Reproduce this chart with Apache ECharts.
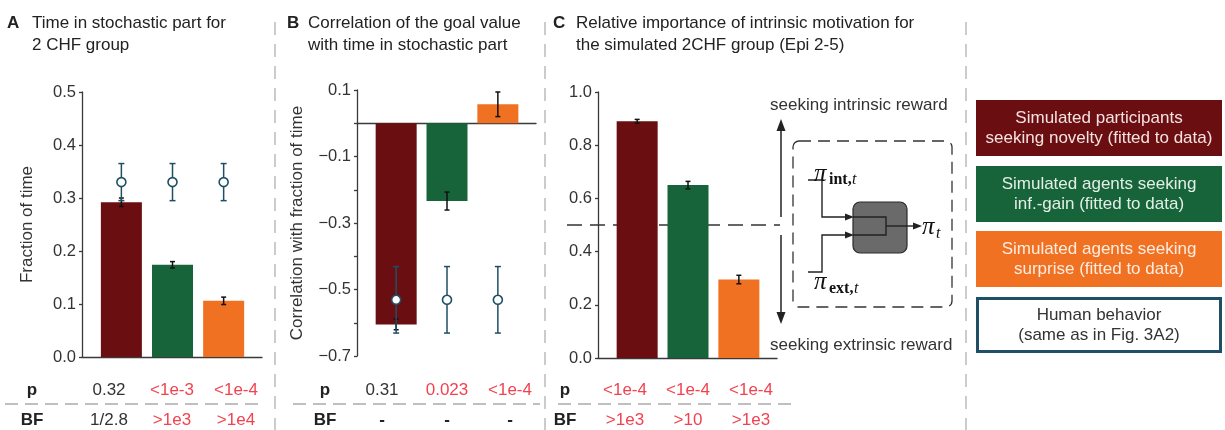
<!DOCTYPE html>
<html>
<head>
<meta charset="utf-8">
<script src="https://cdn.jsdelivr.net/npm/echarts@6/dist/echarts.min.js"></script>
<style>
  html, body { margin: 0; padding: 0; background: #fff; }
  #chart { width: 1225px; height: 430px; }
</style>
</head>
<body>
<div id="chart"></div>
<script>
// ---- data ----
const groups = ['novelty', 'inf.-gain', 'surprise'];
const groupIndex = [0, 1, 2];

// A: fraction of time spent in the stochastic part (2 CHF group)
const fracMean = [0.292, 0.174, 0.106];
const fracErr = [0.008, 0.006, 0.007];
const fracHumanMean = [0.33, 0.33, 0.33];
const fracHumanErr = [0.035, 0.035, 0.035];

// B: correlation of goal value with time in stochastic part
const corrMean = [-0.605, -0.234, 0.057];
const corrErr = [0.016, 0.027, 0.037];
const corrHumanMean = [-0.531, -0.531, -0.531];
const corrHumanErr = [0.100, 0.100, 0.100];

// C: relative importance of intrinsic motivation
const intrMean = [0.890, 0.650, 0.295];
const intrErr = [0.007, 0.014, 0.016];
const intrThreshold = 0.5;

// statistics rows
const pA = ['0.32', '<1e-3', '<1e-4'];
const pASig = [false, true, true];
const bfA = ['1/2.8', '>1e3', '>1e4'];
const bfASig = [false, true, true];
const pB = ['0.31', '0.023', '<1e-4'];
const pBSig = [false, true, true];
const bfB = ['-', '-', '-'];
const bfBSig = [false, false, false];
const pC = ['<1e-4', '<1e-4', '<1e-4'];
const pCSig = [true, true, true];
const bfC = ['>1e3', '>10', '>1e3'];
const bfCSig = [true, true, true];

const legendLabels = [
  'Simulated participants\nseeking novelty (fitted to data)',
  'Simulated agents seeking\ninf.-gain (fitted to data)',
  'Simulated agents seeking\nsurprise (fitted to data)',
  'Human behavior\n(same as in Fig. 3A2)'
];

// ---- styling ----
const FONT = 'Liberation Sans, Arial, Helvetica, sans-serif';
const SERIF = 'Liberation Serif, DejaVu Serif, serif';
const TXT = '#333333';
const RED = '#f2424f';
const barColors = ['#6b0e11', '#17633a', '#f07122'];
const humanColor = '#1f4f65';
const axisColor = '#3a3a3a';
const xMin = -0.77, xMax = 2.75;

const chart = echarts.init(document.getElementById('chart'), null, { renderer: 'canvas' });

function xAxisFor(i) {
  return {
    gridIndex: i, type: 'value', min: xMin, max: xMax,
    axisLine: { show: true, onZero: true, lineStyle: { color: axisColor, width: 1.3 } },
    axisTick: { show: false }, axisLabel: { show: false }, splitLine: { show: false }
  };
}
function yAxisFor(i, min, max, interval, formatter, name, nameGap) {
  return {
    gridIndex: i, type: 'value', min: min, max: max, interval: interval,
    axisLine: { show: true, onZero: false, lineStyle: { color: axisColor, width: 1.3 } },
    axisTick: { show: true, length: 3, lineStyle: { color: axisColor, width: 1.3 } },
    splitLine: { show: false },
    axisLabel: { formatter: formatter, fontSize: 16.5, color: TXT, fontFamily: FONT, margin: 6 },
    name: name || '', nameLocation: 'middle', nameGap: nameGap || 0,
    nameTextStyle: { fontSize: 17, color: TXT, fontFamily: FONT }
  };
}

function barSeries(i, means) {
  return {
    type: 'bar', xAxisIndex: i, yAxisIndex: i, barWidth: 41, z: 2,
    data: means.map((v, k) => ({ value: [groupIndex[k], v], itemStyle: { color: barColors[k] } }))
  };
}
function errRender(color, cap, lw) {
  return function (params, api) {
    const x = api.value(0);
    const a = api.coord([x, api.value(1)]);
    const b = api.coord([x, api.value(2)]);
    const st = { stroke: color, lineWidth: lw };
    return {
      type: 'group', children: [
        { type: 'line', shape: { x1: a[0], y1: a[1], x2: b[0], y2: b[1] }, style: st },
        { type: 'line', shape: { x1: a[0] - cap, y1: a[1], x2: a[0] + cap, y2: a[1] }, style: st },
        { type: 'line', shape: { x1: b[0] - cap, y1: b[1], x2: b[0] + cap, y2: b[1] }, style: st }
      ]
    };
  };
}
function errSeries(i, means, errs, color, cap, z) {
  return {
    type: 'custom', xAxisIndex: i, yAxisIndex: i, z: z,
    renderItem: errRender(color, cap, 1.5),
    encode: { x: 0, y: [1, 2] },
    data: means.map((v, k) => [groupIndex[k], v - errs[k], v + errs[k]])
  };
}
function humanSeries(i, means) {
  return {
    type: 'scatter', xAxisIndex: i, yAxisIndex: i, z: 6, symbol: 'circle', symbolSize: 9,
    itemStyle: { color: '#ffffff', borderColor: humanColor, borderWidth: 1.6, opacity: 1 },
    data: means.map((v, k) => [groupIndex[k], v])
  };
}

const series = [
  barSeries(0, fracMean),
  errSeries(0, fracMean, fracErr, '#111', 2.5, 3),
  errSeries(0, fracHumanMean, fracHumanErr, humanColor, 3, 4),
  humanSeries(0, fracHumanMean),

  barSeries(1, corrMean),
  errSeries(1, corrMean, corrErr, '#111', 2.5, 3),
  errSeries(1, corrHumanMean, corrHumanErr, humanColor, 3, 4),
  humanSeries(1, corrHumanMean),

  barSeries(2, intrMean),
  errSeries(2, intrMean, intrErr, '#111', 2.5, 3),
  // 0.5 reference: equal weighting of intrinsic and extrinsic reward
  {
    type: 'custom', xAxisIndex: 2, yAxisIndex: 2, z: 1,
    renderItem: function (params, api) {
      const cs = params.coordSys;
      const y = api.coord([0, api.value(1)])[1];
      return {
        type: 'line',
        shape: { x1: cs.x - 31, y1: y, x2: cs.x + cs.width + 3, y2: y },
        style: { stroke: '#333', lineWidth: 1.4, lineDash: [15, 8] }
      };
    },
    data: [[0, intrThreshold]]
  }
];

// ---- graphic elements: titles, separators, statistics table, diagram, legend ----
const G = [];
function txt(x, y, text, opt) {
  opt = opt || {};
  G.push({
    type: 'text', x: x, y: y, z: 10, silent: true,
    style: {
      text: text, fill: opt.fill || TXT,
      fontSize: opt.size || 17, fontFamily: opt.family || FONT,
      fontWeight: opt.weight || 'normal', fontStyle: opt.style || 'normal',
      align: opt.align || 'left', textAlign: opt.align || 'left',
      verticalAlign: opt.valign || 'middle', textVerticalAlign: opt.valign || 'middle',
      lineHeight: opt.lh || 22
    }
  });
}
function line(x1, y1, x2, y2, st) {
  G.push({ type: 'line', z: 9, silent: true, shape: { x1, y1, x2, y2 }, style: st });
}

// panel titles
txt(7, 23, 'A', { weight: 'bold', fill: '#222' });
txt(32, 12, 'Time in stochastic part for\n2 CHF group', { valign: 'top', fill: '#222' });
txt(287, 23, 'B', { weight: 'bold', fill: '#222' });
txt(308, 12, 'Correlation of the goal value\nwith time in stochastic part', { valign: 'top', fill: '#222' });
txt(553, 23, 'C', { weight: 'bold', fill: '#222' });
txt(576, 12, 'Relative importance of intrinsic motivation for\nthe simulated 2CHF group (Epi 2-5)', { valign: 'top', fill: '#222' });

// panel separators
[275, 545, 966].forEach(x => line(x, 22, x, 430, { stroke: '#aaaaaa', lineWidth: 1.2, lineDash: [13, 9] }));

// statistics table
const rowP = 390, rowBF = 420;
function table(labelX, cols, pv, ps, bv, bs, lineX1, lineX2) {
  txt(labelX, rowP, 'p', { weight: 'bold', align: 'center', fill: '#222' });
  txt(labelX, rowBF, 'BF', { weight: 'bold', align: 'center', fill: '#222' });
  cols.forEach((x, k) => {
    txt(x, rowP, pv[k], { align: 'center', fill: ps[k] ? RED : TXT });
    const dash = bv[k] === '-';
    txt(x, rowBF, bv[k], { align: 'center', fill: bs[k] ? RED : (dash ? '#222' : TXT), weight: dash ? 'bold' : 'normal' });
  });
  line(lineX1, 404, lineX2, 404, { stroke: '#aaaaaa', lineWidth: 1.5, lineDash: [13, 7] });
}
table(32, [109, 172, 236], pA, pASig, bfA, bfASig, 5, 261);
table(325, [382, 447, 510], pB, pBSig, bfB, bfBSig, 293, 540);
table(565, [625, 688, 751], pC, pCSig, bfC, bfCSig, 558, 793);

// arbitration diagram
const ink = '#222';
txt(770, 105, 'seeking intrinsic reward', { fill: '#333' });
txt(770, 345, 'seeking extrinsic reward', { fill: '#333' });
line(781, 129, 781, 217, { stroke: ink, lineWidth: 1.5 });
line(781, 235, 781, 314, { stroke: ink, lineWidth: 1.5 });
G.push({ type: 'polygon', z: 9, silent: true, shape: { points: [[781, 119], [776.5, 131], [785.5, 131]] }, style: { fill: ink } });
G.push({ type: 'polygon', z: 9, silent: true, shape: { points: [[781, 324], [776.5, 312], [785.5, 312]] }, style: { fill: ink } });
G.push({ type: 'rect', z: 8, silent: true, shape: { x: 793, y: 141, width: 159, height: 166, r: 6 },
  style: { fill: 'none', stroke: '#333', lineWidth: 1.3, lineDash: [12, 7] } });
G.push({ type: 'rect', z: 8, silent: true, shape: { x: 853, y: 202, width: 54, height: 51, r: 7 },
  style: { fill: '#6a6a6a', stroke: '#2a2a2a', lineWidth: 1.2 } });
G.push({ type: 'polyline', z: 9, silent: true, shape: { points: [[808, 180], [822, 180], [822, 217], [846, 217]] }, style: { stroke: ink, lineWidth: 1.4, fill: null } });
G.push({ type: 'polyline', z: 9, silent: true, shape: { points: [[808, 272], [822, 272], [822, 235], [846, 235]] }, style: { stroke: ink, lineWidth: 1.4, fill: null } });
G.push({ type: 'polyline', z: 9, silent: true, shape: { points: [[853, 217], [886, 217], [886, 235], [853, 235]] }, style: { stroke: ink, lineWidth: 1.4, fill: null } });
line(886, 226, 915, 226, { stroke: ink, lineWidth: 1.4 });
G.push({ type: 'polygon', z: 9, silent: true, shape: { points: [[854, 217], [845, 213.5], [845, 220.5]] }, style: { fill: ink } });
G.push({ type: 'polygon', z: 9, silent: true, shape: { points: [[854, 235], [845, 231.5], [845, 238.5]] }, style: { fill: ink } });
G.push({ type: 'polygon', z: 9, silent: true, shape: { points: [[922, 226], [913, 222.5], [913, 229.5]] }, style: { fill: ink } });
// policy symbols
const piOpt = { family: SERIF, style: 'italic', size: 25, valign: 'bottom', fill: '#111', lh: 25 };
const subOpt = { family: SERIF, weight: 'bold', size: 16, valign: 'bottom', fill: '#111', lh: 16 };
const subT = { family: SERIF, style: 'italic', size: 16, valign: 'bottom', fill: '#111', lh: 16 };
txt(814, 187, 'π', piOpt);
txt(829, 188, 'int,', subOpt);
txt(852, 188, 't', subT);
txt(814, 295, 'π', piOpt);
txt(829, 297, 'ext,', subOpt);
txt(854, 297, 't', subT);
txt(922, 240, 'π', piOpt);
txt(936, 242, 't', subT);

// legend boxes
const legendTop = [100, 166, 231, 297];
const legendText = ['#f4e2e2', '#e2efe6', '#fdece0', '#333333'];
legendLabels.forEach((lab, k) => {
  if (k < 3) {
    G.push({ type: 'rect', z: 8, silent: true, shape: { x: 976, y: legendTop[k], width: 246, height: 56 },
      style: { fill: barColors[k] } });
  } else {
    G.push({ type: 'rect', z: 8, silent: true, shape: { x: 977.5, y: legendTop[k] + 1.5, width: 243, height: 53 },
      style: { fill: '#fff', stroke: humanColor, lineWidth: 3 } });
  }
  txt(1099, legendTop[k] + 28, lab, { align: 'center', fill: legendText[k], lh: 20 });
});

const option = {
  animation: false,
  backgroundColor: '#ffffff',
  textStyle: { fontFamily: FONT },
  grid: [
    { left: 82, top: 92, width: 180, height: 265, outerBoundsMode: 'none' },
    { left: 357, top: 90, width: 179, height: 266, outerBoundsMode: 'none' },
    { left: 598, top: 92, width: 179, height: 266, outerBoundsMode: 'none' }
  ],
  xAxis: [xAxisFor(0), xAxisFor(1), xAxisFor(2)],
  yAxis: [
    yAxisFor(0, 0, 0.5, 0.1, v => v.toFixed(1), 'Fraction of time', 46),
    yAxisFor(1, -0.7, 0.1, 0.1, v => {
      const t = Math.round(v * 10);
      if (Math.abs(t) % 2 !== 1) return '';
      return (t < 0 ? '\u2212' : '') + Math.abs(v).toFixed(1);
    }, 'Correlation with fraction of time', 51),
    yAxisFor(2, 0, 1.0, 0.2, v => v.toFixed(1))
  ],
  series: series,
  graphic: { elements: G }
};
chart.setOption(option);
</script>
</body>
</html>
